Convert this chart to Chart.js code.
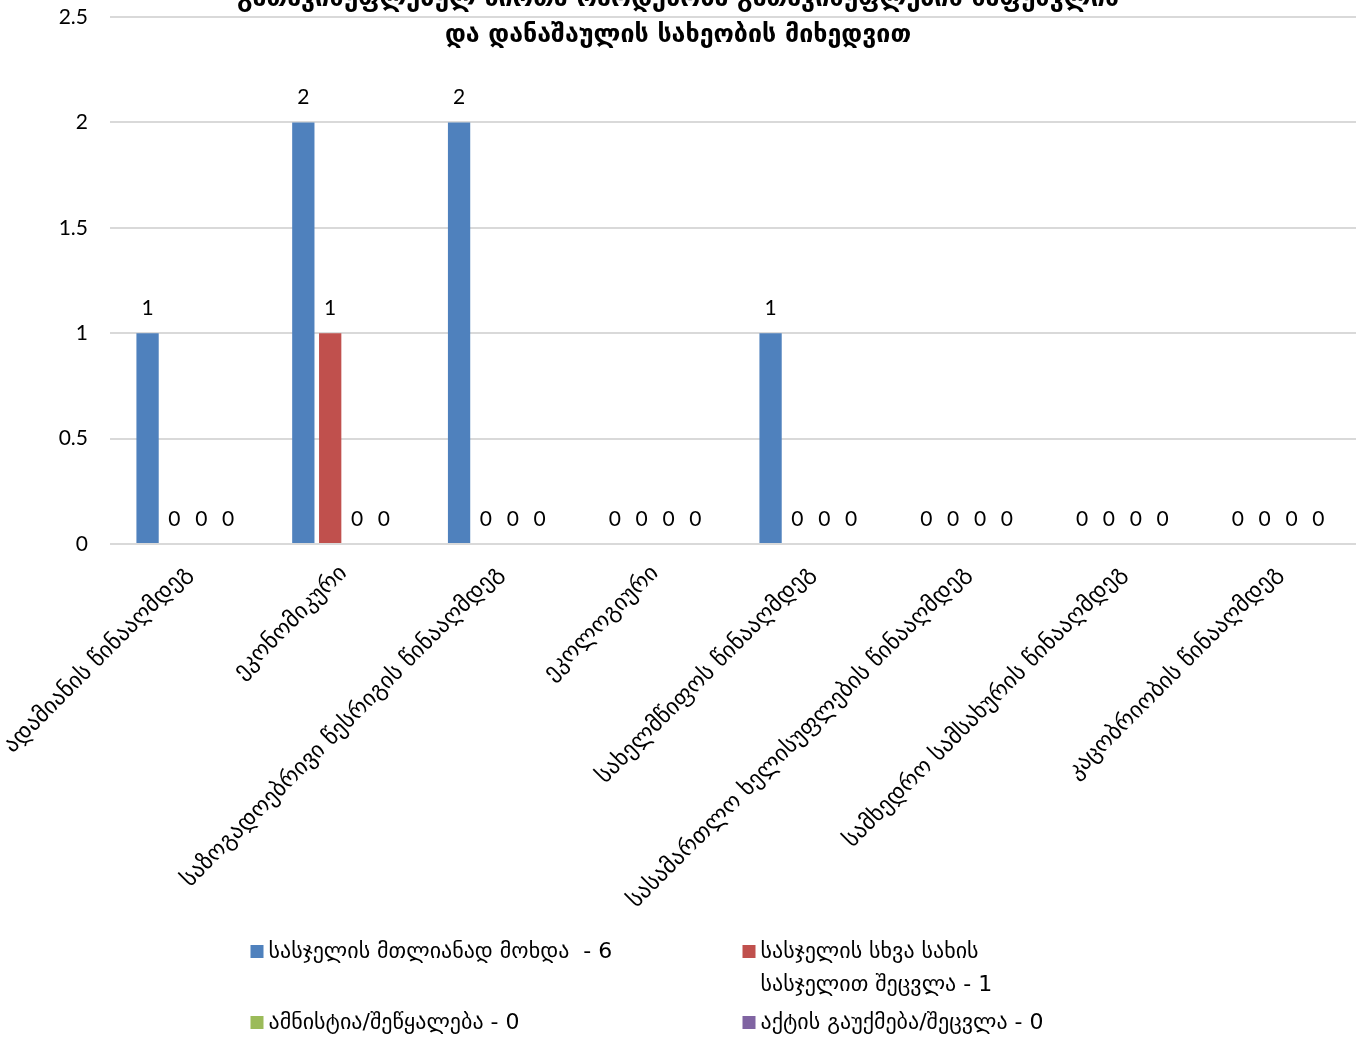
<!DOCTYPE html>
<html><head><meta charset="utf-8">
<script src="https://cdn.jsdelivr.net/npm/chart.js@4.4.1/dist/chart.umd.min.js"></script>
<style>html,body{margin:0;padding:0;background:#fff;overflow:hidden}#wrap{width:1365px;height:1041px;position:relative}</style>
</head><body><div id="wrap"><canvas id="c" width="1365" height="1041"></canvas></div>
<script>
const titleLines = ["გათავისუფლებულ პირთა რაოდენობა გათავისუფლების საფუძვლის", "და დანაშაულის სახეობის მიხედვით"];
const categories = ["ადამიანის წინააღმდეგ", "ეკონომიკური", "საზოგადოებრივი წესრიგის წინააღმდეგ", "ეკოლოგიური", "სახელმწიფოს წინააღმდეგ", "სასამართლო ხელისუფლების წინააღმდეგ", "სამხედრო სამსახურის წინააღმდეგ", "კაცობრიობის წინააღმდეგ"];
const seriesNames = ["სასჯელის მთლიანად მოხდა  - 6", "სასჯელის სხვა სახის სასჯელით შეცვლა - 1", "ამნისტია/შეწყალება - 0", "აქტის გაუქმება/შეცვლა - 0"];
const legendLines = [["სასჯელის მთლიანად მოხდა  - 6"], ["სასჯელის სხვა სახის", "სასჯელით შეცვლა - 1"], ["ამნისტია/შეწყალება - 0"], ["აქტის გაუქმება/შეცვლა - 0"]];
const fullyServed = [1, 2, 2, 0, 1, 0, 0, 0];
const replaced = [0, 1, 0, 0, 0, 0, 0, 0];
const amnesty = [0, 0, 0, 0, 0, 0, 0, 0];
const actChanged = [0, 0, 0, 0, 0, 0, 0, 0];
const yMin = 0, yMax = 2.5, yStep = 0.5;
const colors = ["#4F81BD", "#C0504D", "#9BBB59", "#8064A2"];

const valueLabels = {
  id: 'valueLabels',
  afterDatasetsDraw(chart) {
    const ctx = chart.ctx;
    ctx.save();
    ctx.font = '21px Lato, "Open Sans", sans-serif';
    ctx.fillStyle = '#000';
    ctx.textAlign = 'center';
    ctx.textBaseline = 'middle';
    chart.data.datasets.forEach((ds, di) => {
      const meta = chart.getDatasetMeta(di);
      meta.data.forEach((el, i) => {
        ctx.fillText(String(ds.data[i]), el.x, el.y - 25);
      });
    });
    ctx.restore();
  }
};

const gridLegend = {
  id: 'gridLegend',
  afterDraw(chart) {
    const ctx = chart.ctx;
    const cx = chart.width / 2;
    const cols = [cx - 432, cx + 60];
    const rows = [952, 1023];
    ctx.save();
    ctx.font = '22px "DejaVu Sans", sans-serif';
    ctx.textBaseline = 'middle';
    ctx.textAlign = 'left';
    chart.data.datasets.forEach((ds, i) => {
      const x = cols[i % 2];
      const y = rows[Math.floor(i / 2)];
      ctx.fillStyle = ds.backgroundColor;
      ctx.fillRect(x, y - 7, 13, 13);
      ctx.fillStyle = '#000';
      legendLines[i].forEach((line, li) => ctx.fillText(line, x + 18, y + li * 33));
    });
    ctx.restore();
  }
};

const datasets = [fullyServed, replaced, amnesty, actChanged].map((d, i) => ({
  label: seriesNames[i],
  data: d,
  backgroundColor: colors[i],
  borderWidth: 0,
  barPercentage: 0.83,
  categoryPercentage: 0.69
}));

new Chart(document.getElementById('c'), {
  type: 'bar',
  data: { labels: categories, datasets },
  plugins: [valueLabels, gridLegend],
  options: {
    responsive: false,
    animation: false,
    devicePixelRatio: 1,
    layout: { padding: { left: 0, right: 9, top: 0, bottom: 116 } },
    plugins: {
      legend: { display: false },
      tooltip: { enabled: false },
      title: {
        display: true,
        text: titleLines,
        color: '#000',
        font: { family: '"DejaVu Sans", sans-serif', size: 25, weight: 'bold', lineHeight: 36 / 25 },
        padding: { top: -19, bottom: -36 }
      }
    },
    scales: {
      x: {
        grid: { display: false },
        border: { display: false },
        ticks: {
          autoSkip: false, minRotation: 45, maxRotation: 45, padding: 8,
          color: '#000', font: { family: '"DejaVu Sans", sans-serif', size: 23 }
        },
        afterFit(scale) { scale.height = 381; scale.paddingLeft = 0; scale.paddingRight = 0; }
      },
      y: {
        min: yMin, max: yMax,
        grid: { color: '#d9d9d9', lineWidth: 2, drawTicks: false },
        border: { display: false },
        ticks: {
          stepSize: yStep, padding: 22, color: '#000',
          font: { family: 'Lato, "Open Sans", sans-serif', size: 21 },
          callback: (v) => String(v)
        },
        afterFit(scale) { scale.width = 110; scale.paddingTop = 0; scale.paddingBottom = 0; }
      }
    }
  }
});
</script></body></html>
